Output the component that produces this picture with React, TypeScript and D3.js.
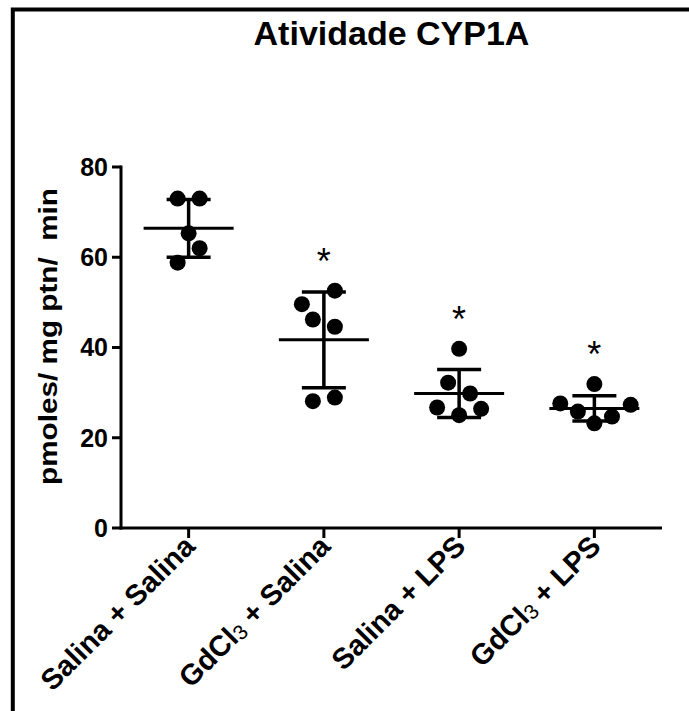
import React from "react";
import * as d3 from "d3";

// groups on the x axis
const groups = ["Salina + Salina", "GdCl3 + Salina", "Salina + LPS", "GdCl3 + LPS"];

// individual values per group (pmoles/ mg ptn/ min)
const salinaSalina = [73.0, 73.0, 65.3, 62.0, 58.8];
const gdSalina = [52.6, 49.6, 46.2, 44.6, 28.1, 28.9];
const salinaLps = [39.7, 32.2, 29.8, 26.7, 26.4, 25.0];
const gdLps = [31.9, 27.6, 27.3, 25.8, 24.7, 23.2];

// horizontal swarm slot of each dot, as GraphPad spreads them
const salinaSalinaSlot = [-1, 1, 0, 1, -1];
const gdSalinaSlot = [1, -2, -1, 1, -1, 1];
const salinaLpsSlot = [0, -1, 1, -2, 2, 0];
const gdLpsSlot = [0, -3.1, 3.3, -1.5, 1.6, 0];

// mean and SD as drawn
const means = [66.4, 41.7, 29.8, 26.5];
const sds = [6.4, 10.6, 5.3, 2.8];

// significance vs control
const significant = [false, true, true, true];

const yTicks = [0, 20, 40, 60, 80];

const values = [salinaSalina, gdSalina, salinaLps, gdLps];
const slots = [salinaSalinaSlot, gdSalinaSlot, salinaLpsSlot, gdLpsSlot];

const width = 689;
const height = 711;
const margin = { top: 167, right: 27, bottom: 183, left: 121 };
const font = "Arial, 'Liberation Sans', sans-serif";

const App = () => {
  const x = d3
    .scaleBand<string>()
    .domain(groups)
    .range([margin.left, width - margin.right])
    .paddingInner(0)
    .paddingOuter(0);
  const y = d3
    .scaleLinear()
    .domain([0, 80])
    .range([height - margin.bottom, margin.top]);

  const slotWidth = 11;
  const r = 8;
  const meanHalf = 45;
  const capHalf = 22;
  const cx = (g: string) => (x(g) ?? 0) + x.bandwidth() / 2;
  const baseY = y(0);

  return (
    <svg
      width={width}
      height={height}
      style={{ position: "absolute", left: 0, top: 0, background: "#fff" }}
      fontFamily={font}
    >
      <rect x={12.8} y={9.5} width={width + 20} height={height + 20} fill="none" stroke="#000" strokeWidth={4} />

      <text x={(margin.left + width - margin.right) / 2} y={45} textAnchor="middle" fontSize={34} fontWeight="bold">
        Atividade CYP1A
      </text>

      {/* y axis */}
      <line x1={margin.left} x2={margin.left} y1={y(80) - 1.5} y2={baseY + 1.5} stroke="#000" strokeWidth={3} />
      {yTicks.map((t) => (
        <g key={t}>
          <line x1={margin.left - 9} x2={margin.left} y1={y(t)} y2={y(t)} stroke="#000" strokeWidth={3} />
          <text x={margin.left - 13} y={y(t)} dy="0.35em" textAnchor="end" fontSize={25} fontWeight="bold">
            {t}
          </text>
        </g>
      ))}
      <text
        transform={`translate(57,${(y(80) + baseY) / 2 - 11}) rotate(-90)`}
        textAnchor="middle"
        fontSize={25}
        fontWeight="bold"
        textLength={297}
        lengthAdjust="spacingAndGlyphs"
        style={{ whiteSpace: "pre" }}
      >
        {"pmoles/ mg ptn/  min"}
      </text>

      {/* x axis */}
      <line x1={margin.left - 1.5} x2={width - margin.right} y1={baseY} y2={baseY} stroke="#000" strokeWidth={3} />
      {groups.map((g) => {
        const gd = g.startsWith("GdCl3");
        return (
          <g key={g}>
            <line x1={cx(g)} x2={cx(g)} y1={baseY} y2={baseY + 10} stroke="#000" strokeWidth={3} />
            <text
              transform={`translate(${cx(g) + 8},${baseY + 20}) rotate(-45)`}
              textAnchor="end"
              fontSize={29}
              fontWeight="bold"
            >
              {gd ? (
                <>
                  GdCl
                  <tspan fontSize={21} fontWeight="normal" dy={2}>3</tspan>
                  <tspan dy={-2}>{g.slice(5)}</tspan>
                </>
              ) : (
                g
              )}
            </text>
          </g>
        );
      })}

      {/* mean, SD and dots */}
      {groups.map((g, i) => {
        const c = cx(g);
        const top = y(means[i] + sds[i]);
        const bottom = y(means[i] - sds[i]);
        return (
          <g key={g}>
            <line x1={c - meanHalf} x2={c + meanHalf} y1={y(means[i])} y2={y(means[i])} stroke="#000" strokeWidth={3} />
            <line x1={c} x2={c} y1={top} y2={bottom} stroke="#000" strokeWidth={3.5} />
            <line x1={c - capHalf} x2={c + capHalf} y1={top} y2={top} stroke="#000" strokeWidth={3.5} />
            <line x1={c - capHalf} x2={c + capHalf} y1={bottom} y2={bottom} stroke="#000" strokeWidth={3.5} />
            {values[i].map((v, j) => (
              <circle key={j} cx={c + slots[i][j] * slotWidth} cy={y(v)} r={r} fill="#000" />
            ))}
            {significant[i] && (
              <text x={c} y={y(d3.max(values[i])! + 8) + 19} textAnchor="middle" fontSize={36}>
                *
              </text>
            )}
          </g>
        );
      })}
    </svg>
  );
};

export default App;
